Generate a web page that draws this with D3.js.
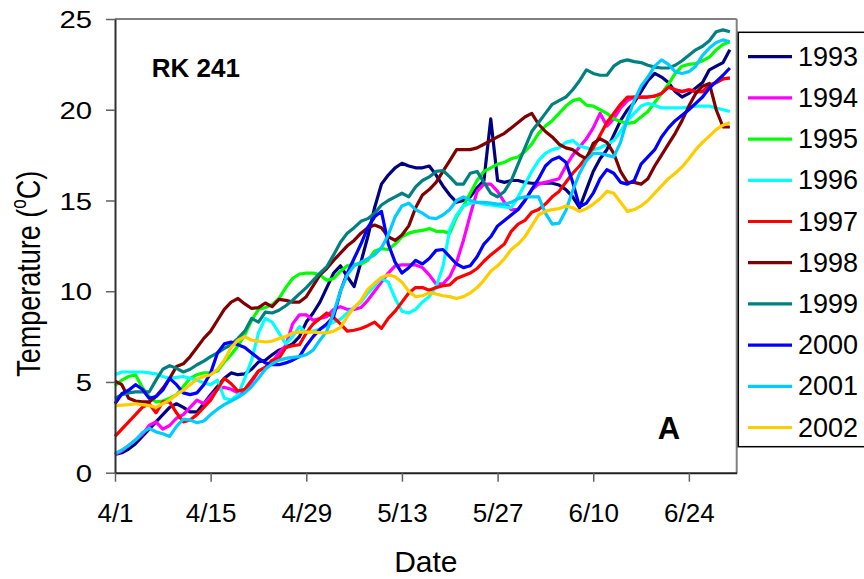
<!DOCTYPE html>
<html><head><meta charset="utf-8">
<script src="https://cdn.jsdelivr.net/npm/d3@7"></script>
<style>body{margin:0;background:#fff} svg{display:block;font-family:"Liberation Sans",Arial,sans-serif}</style>
</head><body><svg id="c" width="864" height="579"></svg>
<script>
const years = ["1993","1994","1995","1996","1997","1998","1999","2000","2001","2002"];
const colors = ["#000080","#FF00FF","#00FF00","#00FFFF","#FF0000","#800000","#008080","#0000FF","#00CCFF","#FFCC00"];
const tickDays = [0,14,28,42,56,70,84];
const tickLabels = ["4/1","4/15","4/29","5/13","5/27","6/10","6/24"];
const yTicks = [0,5,10,15,20,25];

const t1993 = [1.0,1.1,1.3,1.6,2.0,2.4,2.8,3.2,3.6,3.8,
 3.6,3.35,3.35,3.8,4.3,4.75,5.2,5.5,5.4,5.45,
 5.7,6.1,6.2,6.5,6.75,6.9,7.1,7.5,8.3,8.8,
 9.4,10.2,11.0,11.4,10.8,10.25,11.6,13.0,14.6,15.9,
 16.4,16.8,17.05,16.9,16.8,16.8,16.9,16.4,15.8,15.3,
 14.9,15.0,15.2,15.7,16.1,19.5,16.1,16.0,16.1,16.1,
 16.0,15.95,15.95,15.95,15.95,15.85,15.6,15.2,14.6,15.6,
 16.6,17.3,17.8,18.6,19.4,20.0,20.4,21.0,21.6,22.0,
 21.8,21.5,21.0,20.7,20.9,21.2,21.5,22.2,22.4,22.6,
 23.3];
const t1994 = [1.0,1.2,1.5,1.8,2.1,2.6,2.8,2.4,2.6,3.0,
 3.2,3.6,4.0,3.8,4.2,4.6,4.7,4.6,4.4,4.5,
 5.0,5.6,5.8,6.1,6.6,7.0,8.2,8.7,8.7,8.4,
 8.5,8.6,9.0,9.15,9.0,9.0,9.1,9.5,10.0,10.5,
 11.0,11.4,11.45,11.45,11.45,11.3,10.9,10.4,10.4,10.8,
 11.6,12.8,14.2,15.5,15.9,15.9,15.5,14.9,14.5,14.5,
 15.0,15.6,15.9,16.0,16.1,16.2,16.9,17.5,17.95,18.4,
 19.0,19.8,19.1,19.5,20.1,20.5,20.7,20.7,20.7,20.75,
 20.9,21.25,21.1,21.0,21.1,21.0,21.0,21.35,21.5,21.7,
 21.75];
const t1995 = [4.8,5.1,5.3,5.4,4.7,4.2,3.9,3.95,4.1,4.3,
 4.75,5.2,5.4,5.5,5.5,5.6,6.1,6.5,7.0,7.6,
 8.4,9.0,9.1,9.25,9.6,10.2,10.7,10.95,11.0,11.0,
 10.9,10.6,10.7,11.1,11.4,11.5,11.5,11.7,12.2,12.35,
 12.3,12.6,13.0,13.2,13.3,13.35,13.45,13.3,13.3,13.2,
 14.1,14.7,15.4,16.1,16.6,16.8,17.0,17.1,17.3,17.4,
 17.7,18.1,18.7,19.1,19.4,19.8,20.2,20.5,20.6,20.25,
 20.2,20.0,19.8,19.5,19.35,19.25,19.3,19.6,19.9,20.4,
 20.9,21.4,22.0,22.4,22.5,22.55,22.7,22.9,23.3,23.6,
 23.75];
const t1996 = [5.4,5.55,5.55,5.55,5.55,5.5,5.45,5.3,5.2,5.25,
 5.3,5.2,5.1,4.95,4.85,5.1,4.1,4.0,4.3,5.2,
 6.2,7.7,8.5,8.3,7.7,7.1,7.5,8.05,7.7,7.8,
 7.9,8.1,8.3,8.45,8.8,9.1,9.4,9.9,10.3,10.7,
 10.5,9.6,8.9,8.8,9.0,9.4,9.7,10.25,11.35,13.4,
 14.2,14.7,14.85,14.9,14.8,14.75,14.7,14.65,14.6,15.2,
 15.9,16.6,17.2,17.6,17.8,17.9,18.2,18.3,18.0,17.9,
 17.8,17.9,18.1,18.3,18.8,19.4,19.8,20.2,20.35,20.25,
 20.1,20.1,20.1,20.1,20.15,20.2,20.2,20.2,20.1,20.0,
 19.9];
const t1997 = [2.0,2.4,2.8,3.2,3.6,3.8,3.3,3.9,3.9,3.3,
 2.8,2.9,3.2,3.6,4.0,4.6,5.2,4.9,4.5,4.6,
 5.1,5.6,5.8,6.2,6.3,6.9,7.0,7.05,7.7,8.2,
 8.5,8.8,8.55,8.2,7.8,7.85,7.95,8.1,8.3,7.95,
 8.5,8.9,9.4,9.9,10.2,10.2,10.05,10.2,10.3,10.35,
 10.7,10.85,11.0,11.25,11.65,12.0,12.3,12.6,13.3,13.7,
 13.9,14.35,14.5,14.8,15.2,15.5,16.0,16.5,16.9,17.4,
 17.9,18.6,19.3,19.8,20.3,20.7,20.7,20.7,20.7,20.75,
 20.9,21.25,21.1,21.0,21.1,21.0,21.0,21.35,21.5,21.7,
 21.75];
const t1998 = [5.05,4.85,4.1,3.95,3.9,3.9,4.2,4.65,5.2,5.85,
 6.0,6.4,6.9,7.4,7.8,8.4,9.0,9.4,9.6,9.3,
 9.05,9.1,9.35,9.15,9.55,9.5,9.4,9.4,9.7,10.3,
 10.9,11.25,11.7,12.1,12.5,12.8,13.2,13.5,13.65,13.5,
 13.0,12.8,13.1,13.6,14.6,15.3,15.6,16.0,16.6,17.2,
 17.8,17.8,17.8,17.9,18.1,18.3,18.5,18.7,19.0,19.3,
 19.6,19.8,19.2,18.8,18.5,18.1,17.9,17.8,17.5,17.3,
 18.15,18.4,18.2,17.6,16.6,16.0,16.0,15.9,16.2,16.9,
 17.5,18.1,18.7,19.4,20.2,20.9,21.3,21.45,20.0,19.05,
 19.05];
const t1999 = [4.1,4.3,4.4,4.45,4.45,4.45,5.1,5.7,5.9,5.75,
 5.55,5.7,5.95,6.15,6.4,6.6,6.85,7.05,7.4,7.8,
 8.5,8.3,8.85,8.8,8.95,9.2,9.5,9.85,10.2,10.6,
 11.0,11.35,12.0,12.7,13.2,13.5,13.85,14.0,14.3,14.75,
 15.0,15.2,15.4,15.2,15.75,16.1,16.3,16.6,16.65,16.3,
 15.9,15.9,16.5,16.6,16.0,15.4,15.2,15.5,16.1,17.0,
 17.9,18.8,19.3,19.8,20.3,20.5,20.7,21.1,21.6,22.2,
 22.0,21.9,21.9,22.4,22.65,22.75,22.65,22.6,22.45,22.35,
 22.3,22.3,22.45,22.7,23.0,23.3,23.5,23.8,24.3,24.4,
 24.3];
const t2000 = [3.8,4.35,4.55,4.85,4.6,4.1,4.2,4.55,5.2,4.85,
 4.4,4.3,4.4,4.85,5.5,6.6,7.1,7.2,7.05,6.9,
 6.6,6.3,6.05,5.95,5.95,6.05,6.2,6.4,7.0,7.5,
 7.9,8.2,8.6,10.0,11.0,11.8,12.6,13.5,14.1,14.4,
 12.6,11.6,11.0,11.3,11.7,11.5,11.8,12.25,12.3,11.9,
 11.5,11.3,11.4,11.9,12.6,13.0,13.6,13.9,14.2,14.5,
 15.0,15.6,16.2,16.9,17.25,17.4,17.1,16.0,14.65,14.85,
 15.4,16.2,16.7,16.5,16.0,15.9,16.1,17.0,17.4,17.8,
 18.5,19.0,19.4,19.7,20.0,20.35,20.7,21.2,21.55,21.9,
 22.3];
const t2001 = [1.05,1.25,1.5,1.8,2.2,2.45,2.25,2.15,2.0,2.55,
 2.95,2.9,2.75,2.85,3.2,3.5,3.75,3.95,4.15,4.4,
 4.75,5.2,5.7,6.0,6.2,6.3,6.35,6.4,6.5,6.75,
 7.3,7.8,8.8,10.0,10.9,11.4,11.6,11.8,12.0,12.4,
 13.1,14.1,14.7,14.85,14.5,14.3,14.05,14.0,14.2,14.5,
 15.0,15.2,15.0,14.9,14.9,14.85,14.8,14.8,14.9,15.1,
 15.2,15.2,15.2,14.3,13.7,13.75,14.45,15.55,16.5,17.2,
 17.6,17.6,17.5,17.4,18.2,19.5,20.5,21.3,21.8,22.4,
 22.75,22.5,22.1,22.0,22.1,22.4,23.0,23.4,23.7,23.85,
 23.75];
const t2002 = [3.7,3.72,3.75,3.8,3.75,3.7,3.6,3.8,4.0,4.3,
 4.55,4.85,5.15,5.3,5.4,5.7,6.2,6.9,7.3,7.5,
 7.3,7.25,7.2,7.25,7.4,7.5,7.7,7.75,7.75,7.75,
 7.72,7.7,7.8,8.0,8.6,9.1,9.5,10.1,10.45,10.75,
 10.9,10.8,10.5,10.0,9.7,9.75,9.9,9.85,9.75,9.7,
 9.6,9.7,9.9,10.2,10.6,11.1,11.4,11.8,12.3,12.6,
 13.0,13.6,14.2,14.4,14.5,14.55,14.7,14.6,14.4,14.55,
 14.8,15.1,15.5,15.4,14.9,14.4,14.5,14.7,15.0,15.4,
 15.8,16.2,16.5,16.85,17.3,17.8,18.2,18.55,18.9,19.15,
 19.3];
const seriesValues = [t1993,t1994,t1995,t1996,t1997,t1998,t1999,t2000,t2001,t2002];

const svg = d3.select("#c");
const L = 115, R = 736.7, T = 19, B = 472.7;
const x = d3.scaleLinear().domain([0, 91]).range([L, R]);
const y = d3.scaleLinear().domain([0, 25]).range([B, T]);

// plot frame (top/right gray)
svg.append("line").attr("x1",L).attr("x2",R).attr("y1",T).attr("y2",T).attr("stroke","#808080").attr("stroke-width",2);
svg.append("line").attr("x1",R).attr("x2",R).attr("y1",T).attr("y2",B).attr("stroke","#808080").attr("stroke-width",2);

// series
const line = d3.line().x((d,i)=>x(i)).y(d=>y(d));
seriesValues.forEach((vals,k)=>{
  svg.append("path").datum(vals).attr("d",line).attr("fill","none")
    .attr("stroke",colors[k]).attr("stroke-width",3.2).attr("stroke-linejoin","round");
});

// y axis
const gy = svg.append("g").attr("transform",`translate(${L},0)`)
  .call(d3.axisLeft(y).tickValues(yTicks).tickSize(9).tickSizeOuter(0));
gy.select(".domain").attr("stroke","#303030").attr("stroke-width",2);
gy.selectAll(".tick line").attr("stroke","#606060").attr("stroke-width",1.5);
gy.selectAll(".tick text").attr("x",0).attr("dy","0.36em")
  .attr("transform","translate(-23,0) scale(1.22,1)")
  .attr("font-size",24).attr("fill","#000").attr("font-family","Liberation Sans, Arial, sans-serif");

// x axis
const gx = svg.append("g").attr("transform",`translate(0,${B})`)
  .call(d3.axisBottom(x).tickValues(tickDays).tickFormat((d,i)=>tickLabels[i]).tickSize(9).tickSizeOuter(0));
gx.select(".domain").attr("stroke","#202020").attr("stroke-width",2);
gx.selectAll(".tick line").attr("stroke","#606060").attr("stroke-width",1.5);
gx.selectAll(".tick text").attr("y",521.7-B).attr("dy",0)
  .attr("font-size",26).attr("fill","#000").attr("font-family","Liberation Sans, Arial, sans-serif");

// axis titles
svg.append("text").attr("x",(L+R)/2).attr("y",571.7).attr("text-anchor","middle")
  .attr("font-size",30).text("Date");
const yt = svg.append("text").attr("transform","translate(39.5,376.7) scale(1.25,1) rotate(-90)")
  .attr("font-size",27).attr("text-anchor","start");
yt.append("tspan").text("Temperature (");
yt.append("tspan").attr("font-size",17).attr("dy",-11).text("o");
yt.append("tspan").attr("dy",11).text("C)");

// annotations
svg.append("text").attr("x",151.7).attr("y",77.3).attr("font-size",26).attr("font-weight","bold").text("RK 241");
svg.append("text").attr("x",669).attr("y",439.3).attr("text-anchor","middle").attr("font-size",31).attr("font-weight","bold").text("A");

// legend
const lg = svg.append("g");
lg.append("rect").attr("x",738.3).attr("y",32.3).attr("width",200).attr("height",414.4)
  .attr("fill","#fff").attr("stroke","#000").attr("stroke-width",1.5);
years.forEach((yr,k)=>{
  const ly = 56.7 + k*41.2;
  lg.append("line").attr("x1",748).attr("x2",792).attr("y1",ly).attr("y2",ly)
    .attr("stroke",colors[k]).attr("stroke-width",3.2);
  lg.append("text").attr("x",798).attr("y",ly+9).attr("font-size",27).text(yr);
});
</script>
</body></html>
